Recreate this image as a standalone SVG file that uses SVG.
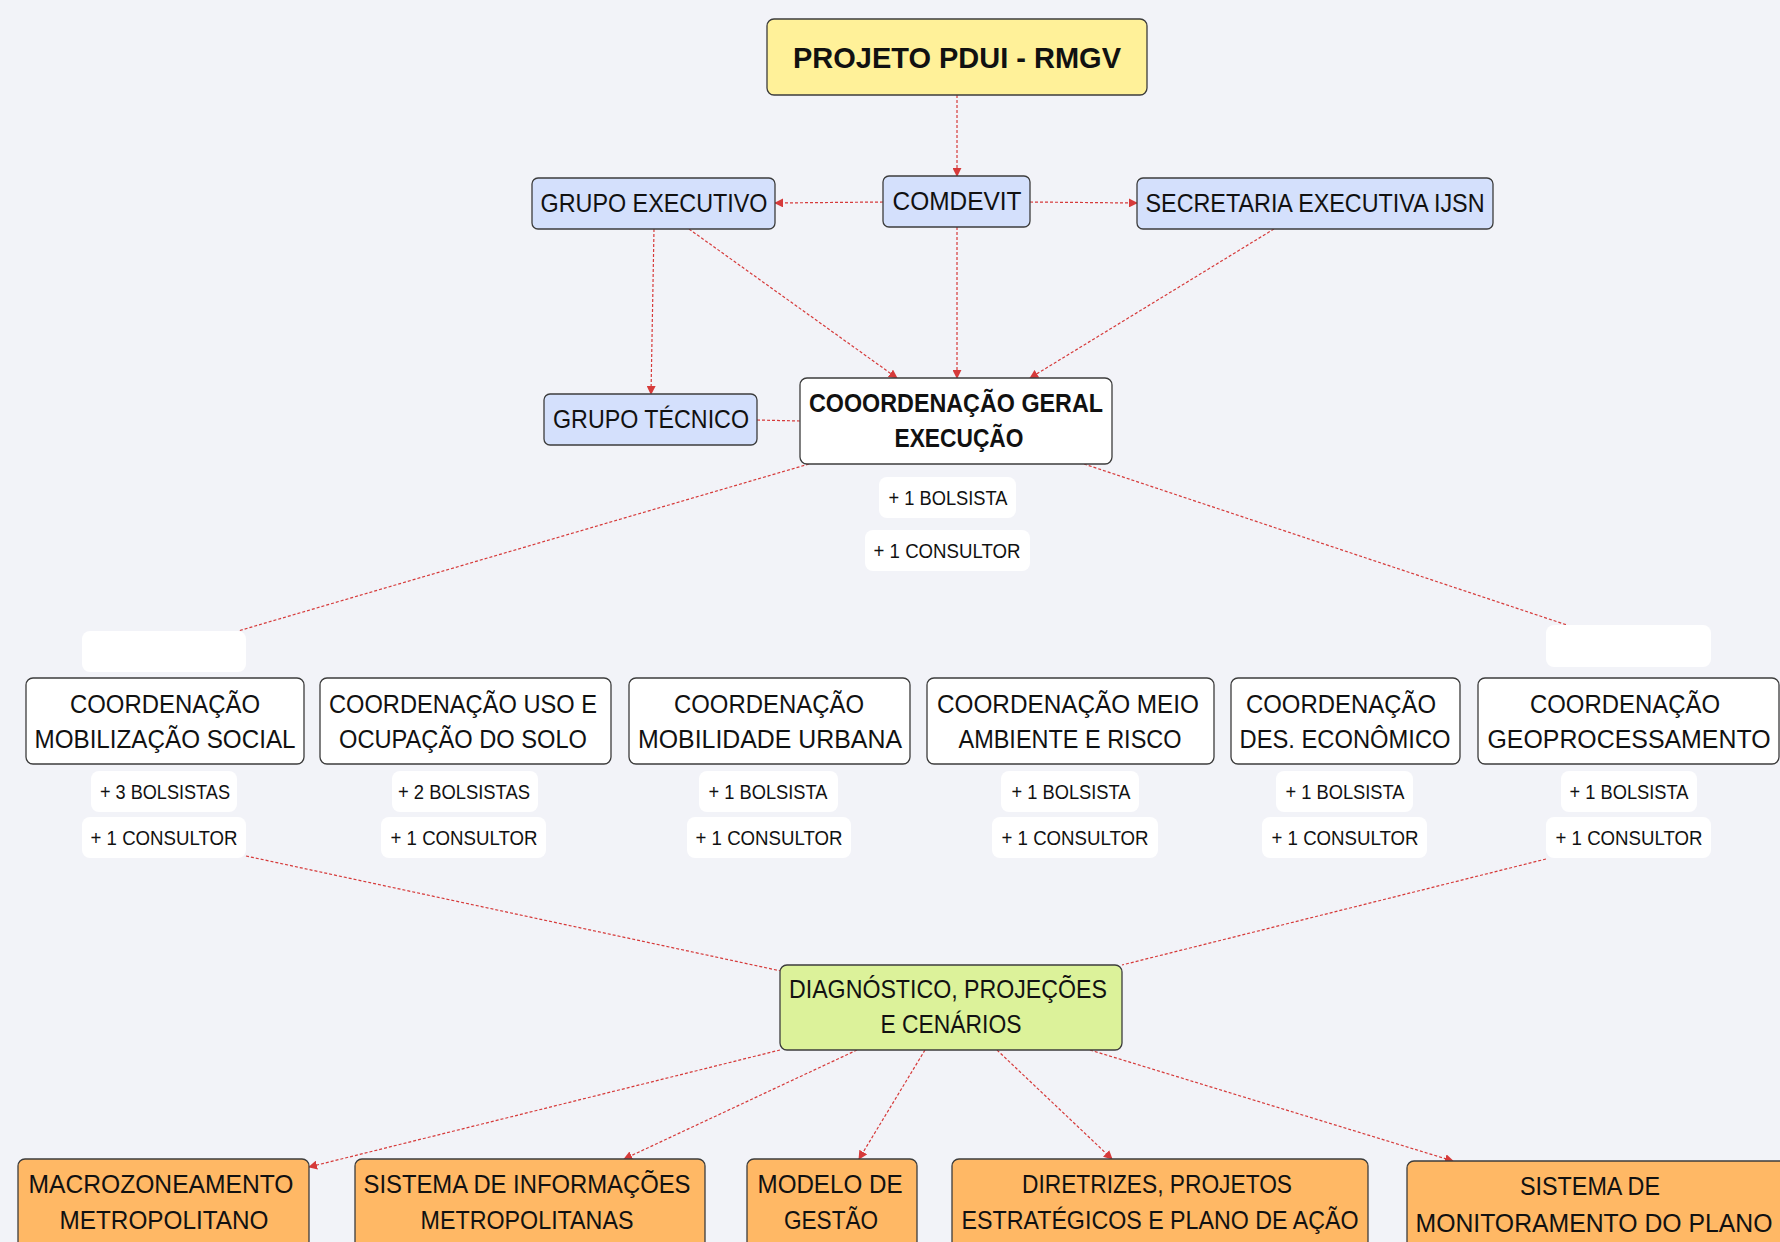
<svg xmlns="http://www.w3.org/2000/svg" width="1780" height="1242" viewBox="0 0 1780 1242">
<style>
  .bg{fill:#f2f3f8}
  .box{stroke:#3c3c3c;stroke-width:1.3}
  .yellow{fill:#fff199}
  .blue{fill:#d4e0fc}
  .white{fill:#ffffff}
  .green{fill:#dcf29a}
  .orange{fill:#ffb865}
  .lbl{fill:#ffffff;stroke:none}
  text{font-family:"Liberation Sans","Noto Sans",Arial,sans-serif;fill:#111;text-anchor:middle}
  .big{font-size:30px;font-weight:bold}
  .b{font-size:25px;font-weight:bold}
  .m{font-size:25px}
  .s{font-size:20px}
  .c{stroke:#d63a3a;stroke-width:1.2;stroke-dasharray:3 2;fill:none}
</style>
<defs>
  <marker id="arr" viewBox="0 0 10 10" refX="9" refY="5" markerWidth="9" markerHeight="9" markerUnits="userSpaceOnUse" orient="auto">
    <path d="M0,0 L10,5 L0,10 z" fill="#d63a3a"/>
  </marker>
</defs>
<rect class="bg" x="0" y="0" width="1780" height="1242"/>

<g id="connectors">
  <line class="c" x1="957" y1="95" x2="957" y2="176" marker-end="url(#arr)"/>
  <line class="c" x1="883" y1="202" x2="775" y2="203" marker-end="url(#arr)"/>
  <line class="c" x1="1030" y1="202" x2="1137" y2="203" marker-end="url(#arr)"/>
  <line class="c" x1="654" y1="229" x2="651" y2="394" marker-end="url(#arr)"/>
  <line class="c" x1="689" y1="229" x2="897" y2="378" marker-end="url(#arr)"/>
  <line class="c" x1="957" y1="227" x2="957" y2="378" marker-end="url(#arr)"/>
  <line class="c" x1="1274" y1="229" x2="1030" y2="378" marker-end="url(#arr)"/>
  <line class="c" x1="757" y1="420" x2="800" y2="421"/>
  <line class="c" x1="809" y1="464" x2="238" y2="631"/>
  <line class="c" x1="1084" y1="464" x2="1567" y2="625"/>
  <line class="c" x1="246" y1="856" x2="781" y2="971"/>
  <line class="c" x1="1546" y1="859" x2="1122" y2="965"/>
  <line class="c" x1="780" y1="1050" x2="309" y2="1167" marker-end="url(#arr)"/>
  <line class="c" x1="857" y1="1050" x2="624" y2="1159" marker-end="url(#arr)"/>
  <line class="c" x1="925" y1="1050" x2="859" y2="1159" marker-end="url(#arr)"/>
  <line class="c" x1="997" y1="1050" x2="1112" y2="1159" marker-end="url(#arr)"/>
  <line class="c" x1="1090" y1="1050" x2="1453" y2="1161" marker-end="url(#arr)"/>
</g>

<g id="n-projeto">
  <rect class="box yellow" x="767" y="19" width="380" height="76" rx="7"/>
  <text class="big" x="957" y="68" textLength="328" lengthAdjust="spacingAndGlyphs">PROJETO PDUI - RMGV</text>
</g>
<g id="n-comdevit">
  <rect class="box blue" x="883" y="176" width="147" height="51" rx="6"/>
  <text class="m" x="957" y="210" textLength="129" lengthAdjust="spacingAndGlyphs">COMDEVIT</text>
</g>
<g id="n-grupo-executivo">
  <rect class="box blue" x="532" y="178" width="243" height="51" rx="6"/>
  <text class="m" x="654" y="212" textLength="227" lengthAdjust="spacingAndGlyphs">GRUPO EXECUTIVO</text>
</g>
<g id="n-secretaria">
  <rect class="box blue" x="1137" y="178" width="356" height="51" rx="6"/>
  <text class="m" x="1315" y="212" textLength="339" lengthAdjust="spacingAndGlyphs">SECRETARIA EXECUTIVA IJSN</text>
</g>
<g id="n-grupo-tecnico">
  <rect class="box blue" x="544" y="394" width="213" height="51" rx="6"/>
  <text class="m" x="651" y="428" textLength="196" lengthAdjust="spacingAndGlyphs">GRUPO TÉCNICO</text>
</g>
<g id="n-coord-geral">
  <rect class="box white" x="800" y="378" width="312" height="86" rx="7"/>
  <text class="b" x="956" y="412" textLength="294" lengthAdjust="spacingAndGlyphs">COOORDENAÇÃO GERAL</text>
  <text class="b" x="959" y="447" textLength="129" lengthAdjust="spacingAndGlyphs">EXECUÇÃO</text>
</g>
<g id="l-geral-bolsista">
  <rect class="lbl" x="879" y="477" width="137" height="41" rx="8"/>
  <text class="s" x="948" y="505" textLength="119" lengthAdjust="spacingAndGlyphs">+ 1 BOLSISTA</text>
</g>
<g id="l-geral-consultor">
  <rect class="lbl" x="865" y="530" width="165" height="41" rx="8"/>
  <text class="s" x="947" y="558" textLength="147" lengthAdjust="spacingAndGlyphs">+ 1 CONSULTOR</text>
</g>
<g id="l-empty-left">
  <rect class="lbl" x="82" y="631" width="164" height="41" rx="8"/>
</g>
<g id="l-empty-right">
  <rect class="lbl" x="1546" y="625" width="165" height="42" rx="8"/>
</g>

<g id="n-coord-mobilizacao">
  <rect class="box white" x="26" y="678" width="278" height="86" rx="7"/>
  <text class="m" x="165" y="713" textLength="190" lengthAdjust="spacingAndGlyphs">COORDENAÇÃO</text>
  <text class="m" x="165" y="748" textLength="261" lengthAdjust="spacingAndGlyphs">MOBILIZAÇÃO SOCIAL</text>
</g>
<g id="n-coord-uso">
  <rect class="box white" x="320" y="678" width="291" height="86" rx="7"/>
  <text class="m" x="463" y="713" textLength="268" lengthAdjust="spacingAndGlyphs">COORDENAÇÃO USO E</text>
  <text class="m" x="463" y="748" textLength="248" lengthAdjust="spacingAndGlyphs">OCUPAÇÃO DO SOLO</text>
</g>
<g id="n-coord-mobilidade">
  <rect class="box white" x="629" y="678" width="281" height="86" rx="7"/>
  <text class="m" x="769" y="713" textLength="190" lengthAdjust="spacingAndGlyphs">COORDENAÇÃO</text>
  <text class="m" x="770" y="748" textLength="264" lengthAdjust="spacingAndGlyphs">MOBILIDADE URBANA</text>
</g>
<g id="n-coord-meio">
  <rect class="box white" x="927" y="678" width="287" height="86" rx="7"/>
  <text class="m" x="1068" y="713" textLength="262" lengthAdjust="spacingAndGlyphs">COORDENAÇÃO MEIO</text>
  <text class="m" x="1070" y="748" textLength="223" lengthAdjust="spacingAndGlyphs">AMBIENTE E RISCO</text>
</g>
<g id="n-coord-economico">
  <rect class="box white" x="1231" y="678" width="229" height="86" rx="7"/>
  <text class="m" x="1341" y="713" textLength="190" lengthAdjust="spacingAndGlyphs">COORDENAÇÃO</text>
  <text class="m" x="1345" y="748" textLength="211" lengthAdjust="spacingAndGlyphs">DES. ECONÔMICO</text>
</g>
<g id="n-coord-geo">
  <rect class="box white" x="1478" y="678" width="301" height="86" rx="7"/>
  <text class="m" x="1625" y="713" textLength="190" lengthAdjust="spacingAndGlyphs">COORDENAÇÃO</text>
  <text class="m" x="1629" y="748" textLength="283" lengthAdjust="spacingAndGlyphs">GEOPROCESSAMENTO</text>
</g>

<g id="l-col1">
  <rect class="lbl" x="91" y="771" width="146" height="41" rx="8"/>
  <text class="s" x="165" y="799" textLength="130" lengthAdjust="spacingAndGlyphs">+ 3 BOLSISTAS</text>
  <rect class="lbl" x="82" y="817" width="164" height="41" rx="8"/>
  <text class="s" x="164" y="845" textLength="147" lengthAdjust="spacingAndGlyphs">+ 1 CONSULTOR</text>
</g>
<g id="l-col2">
  <rect class="lbl" x="392" y="771" width="146" height="41" rx="8"/>
  <text class="s" x="464" y="799" textLength="132" lengthAdjust="spacingAndGlyphs">+ 2 BOLSISTAS</text>
  <rect class="lbl" x="381" y="817" width="165" height="41" rx="8"/>
  <text class="s" x="464" y="845" textLength="147" lengthAdjust="spacingAndGlyphs">+ 1 CONSULTOR</text>
</g>
<g id="l-col3">
  <rect class="lbl" x="699" y="771" width="139" height="41" rx="8"/>
  <text class="s" x="768" y="799" textLength="119" lengthAdjust="spacingAndGlyphs">+ 1 BOLSISTA</text>
  <rect class="lbl" x="687" y="817" width="164" height="41" rx="8"/>
  <text class="s" x="769" y="845" textLength="147" lengthAdjust="spacingAndGlyphs">+ 1 CONSULTOR</text>
</g>
<g id="l-col4">
  <rect class="lbl" x="1001" y="771" width="138" height="41" rx="8"/>
  <text class="s" x="1071" y="799" textLength="119" lengthAdjust="spacingAndGlyphs">+ 1 BOLSISTA</text>
  <rect class="lbl" x="992" y="817" width="166" height="41" rx="8"/>
  <text class="s" x="1075" y="845" textLength="147" lengthAdjust="spacingAndGlyphs">+ 1 CONSULTOR</text>
</g>
<g id="l-col5">
  <rect class="lbl" x="1276" y="771" width="137" height="41" rx="8"/>
  <text class="s" x="1345" y="799" textLength="119" lengthAdjust="spacingAndGlyphs">+ 1 BOLSISTA</text>
  <rect class="lbl" x="1262" y="817" width="165" height="41" rx="8"/>
  <text class="s" x="1345" y="845" textLength="147" lengthAdjust="spacingAndGlyphs">+ 1 CONSULTOR</text>
</g>
<g id="l-col6">
  <rect class="lbl" x="1561" y="771" width="136" height="41" rx="8"/>
  <text class="s" x="1629" y="799" textLength="119" lengthAdjust="spacingAndGlyphs">+ 1 BOLSISTA</text>
  <rect class="lbl" x="1546" y="817" width="165" height="41" rx="8"/>
  <text class="s" x="1629" y="845" textLength="147" lengthAdjust="spacingAndGlyphs">+ 1 CONSULTOR</text>
</g>

<g id="n-diagnostico">
  <rect class="box green" x="780" y="965" width="342" height="85" rx="7"/>
  <text class="m" x="948" y="998" textLength="318" lengthAdjust="spacingAndGlyphs">DIAGNÓSTICO, PROJEÇÕES</text>
  <text class="m" x="951" y="1033" textLength="141" lengthAdjust="spacingAndGlyphs">E CENÁRIOS</text>
</g>

<g id="n-macrozoneamento">
  <rect class="box orange" x="18" y="1159" width="291" height="100" rx="7"/>
  <text class="m" x="161" y="1193" textLength="265" lengthAdjust="spacingAndGlyphs">MACROZONEAMENTO</text>
  <text class="m" x="164" y="1229" textLength="209" lengthAdjust="spacingAndGlyphs">METROPOLITANO</text>
</g>
<g id="n-sistema-info">
  <rect class="box orange" x="355" y="1159" width="350" height="100" rx="7"/>
  <text class="m" x="527" y="1193" textLength="327" lengthAdjust="spacingAndGlyphs">SISTEMA DE INFORMAÇÕES</text>
  <text class="m" x="527" y="1229" textLength="213" lengthAdjust="spacingAndGlyphs">METROPOLITANAS</text>
</g>
<g id="n-modelo">
  <rect class="box orange" x="747" y="1159" width="170" height="100" rx="7"/>
  <text class="m" x="830" y="1193" textLength="145" lengthAdjust="spacingAndGlyphs">MODELO DE</text>
  <text class="m" x="831" y="1229" textLength="94" lengthAdjust="spacingAndGlyphs">GESTÃO</text>
</g>
<g id="n-diretrizes">
  <rect class="box orange" x="952" y="1159" width="416" height="100" rx="7"/>
  <text class="m" x="1157" y="1193" textLength="270" lengthAdjust="spacingAndGlyphs">DIRETRIZES, PROJETOS</text>
  <text class="m" x="1160" y="1229" textLength="397" lengthAdjust="spacingAndGlyphs">ESTRATÉGICOS E PLANO DE AÇÃO</text>
</g>
<g id="n-monitoramento">
  <rect class="box orange" x="1407" y="1161" width="390" height="100" rx="7"/>
  <text class="m" x="1590" y="1195" textLength="140" lengthAdjust="spacingAndGlyphs">SISTEMA DE</text>
  <text class="m" x="1594" y="1232" textLength="357" lengthAdjust="spacingAndGlyphs">MONITORAMENTO DO PLANO</text>
</g>
</svg>
